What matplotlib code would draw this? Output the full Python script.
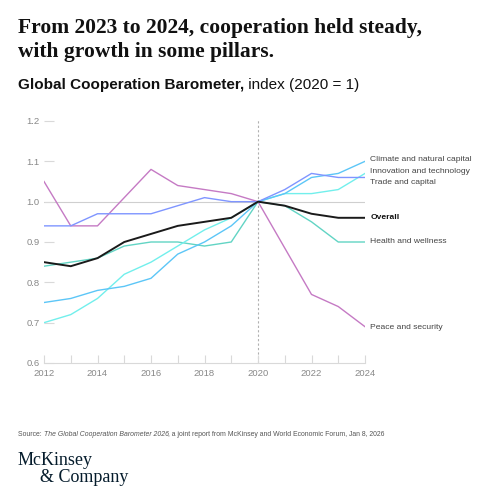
import matplotlib
matplotlib.use("Agg")
import matplotlib.pyplot as plt

# Data
years = list(range(2012, 2025))
overall = [0.85, 0.84, 0.86, 0.90, 0.92, 0.94, 0.95, 0.96, 1.00, 0.99, 0.97, 0.96, 0.96]
peace = [1.05, 0.94, 0.94, 1.01, 1.08, 1.04, 1.03, 1.02, 1.00, 0.885, 0.77, 0.74, 0.69]
trade = [0.94, 0.94, 0.97, 0.97, 0.97, 0.99, 1.01, 1.00, 1.00, 1.03, 1.07, 1.06, 1.06]
climate = [0.75, 0.76, 0.78, 0.79, 0.81, 0.87, 0.90, 0.94, 1.00, 1.02, 1.06, 1.07, 1.10]
innovation = [0.70, 0.72, 0.76, 0.82, 0.85, 0.89, 0.93, 0.96, 1.00, 1.02, 1.02, 1.03, 1.07]
health = [0.84, 0.85, 0.86, 0.89, 0.90, 0.90, 0.89, 0.90, 1.00, 0.99, 0.95, 0.90, 0.90]

series_names = ["Climate and natural capital", "Innovation and technology", "Trade and capital",
                "Overall", "Health and wellness", "Peace and security"]
label_y = [1.105, 1.076, 1.047, 0.96, 0.90, 0.687]

yticks = [0.6, 0.7, 0.8, 0.9, 1.0, 1.1, 1.2]
xticklabels = [2012, 2014, 2016, 2018, 2020, 2022, 2024]

colors = {
    "Climate and natural capital": "#5cc6f7",
    "Innovation and technology": "#72efec",
    "Trade and capital": "#7f95ff",
    "Overall": "#1a1a1a",
    "Health and wellness": "#62d4c4",
    "Peace and security": "#c57ac4",
}
values = {
    "Climate and natural capital": climate,
    "Innovation and technology": innovation,
    "Trade and capital": trade,
    "Overall": overall,
    "Health and wellness": health,
    "Peace and security": peace,
}

plt.rcParams["font.family"] = "Liberation Sans"

fig = plt.figure(figsize=(5, 5), dpi=100)
ax = fig.add_axes([0.088, 0.274, 0.642, 0.484])

grey = "#d9d9d9"
ax.axhline(1.0, color="#cfcfcf", lw=0.8, zorder=1)
ax.axvline(2020, color="#b0b0b0", lw=0.8, ls=(0, (2, 2)), zorder=1, ymax=1.01, clip_on=False)

for name in ["Peace and security", "Health and wellness", "Innovation and technology",
             "Climate and natural capital", "Trade and capital", "Overall"]:
    lw = 1.4 if name == "Overall" else 1.0
    ax.plot(years, values[name], color=colors[name], lw=lw, zorder=3)

for name, ly in zip(series_names, label_y):
    ax.text(2024.2, ly, name, fontsize=6.1, va="center", ha="left",
            color="#111111" if name == "Overall" else "#444444",
            fontweight="bold" if name == "Overall" else "normal", clip_on=False)

ax.set_xlim(2012, 2024)
ax.set_ylim(0.6, 1.2)
for s in ["top", "right", "left"]:
    ax.spines[s].set_visible(False)
ax.spines["bottom"].set_color(grey)
ax.spines["bottom"].set_linewidth(0.8)

ax.set_yticks(yticks)
ax.set_yticklabels([f"{v:.1f}" for v in yticks])
ax.tick_params(axis="y", direction="in", length=7, width=0.8, color=grey,
               labelsize=6.8, labelcolor="#888888", pad=3)
ax.set_xticks(years)
ax.set_xticklabels([str(y) if y in xticklabels else "" for y in years])
ax.tick_params(axis="x", direction="in", length=6, width=0.8, color=grey,
               labelsize=6.8, labelcolor="#888888", pad=4)


def mixed_text(x, y, parts, **kw):
    # draw consecutive text pieces with different styles on one line
    renderer = fig.canvas.get_renderer()
    for text, style in parts:
        t = fig.text(x, y, text, **kw, **style)
        bb = t.get_window_extent(renderer=renderer)
        x += bb.width / fig.bbox.width


title_kw = dict(fontsize=15.5, fontweight="bold", family="Liberation Serif", color="#111111",
                va="baseline", ha="left")
fig.text(0.036, 0.934, "From 2023 to 2024, cooperation held steady,", **title_kw)
fig.text(0.036, 0.886, "with growth in some pillars.", **title_kw)

mixed_text(0.036, 0.822, [("Global Cooperation Barometer,", {"fontweight": "bold"}),
                          (" index (2020 = 1)", {"fontweight": "normal"})],
           fontsize=11, color="#111111", va="baseline")

mixed_text(0.036, 0.128, [("Source: ", {}),
                          ("The Global Cooperation Barometer 2026", {"style": "italic"}),
                          (", a joint report from McKinsey and World Economic Forum, Jan 8, 2026", {})],
           fontsize=4.95, color="#555555", va="baseline")

fig.text(0.036, 0.07, "McKinsey", fontsize=13, family="Liberation Serif", color="#051c2c",
         va="baseline")
fig.text(0.080, 0.036, "& Company", fontsize=13, family="Liberation Serif", color="#051c2c",
         va="baseline")

fig.savefig("out.png", dpi=100, facecolor="white")
